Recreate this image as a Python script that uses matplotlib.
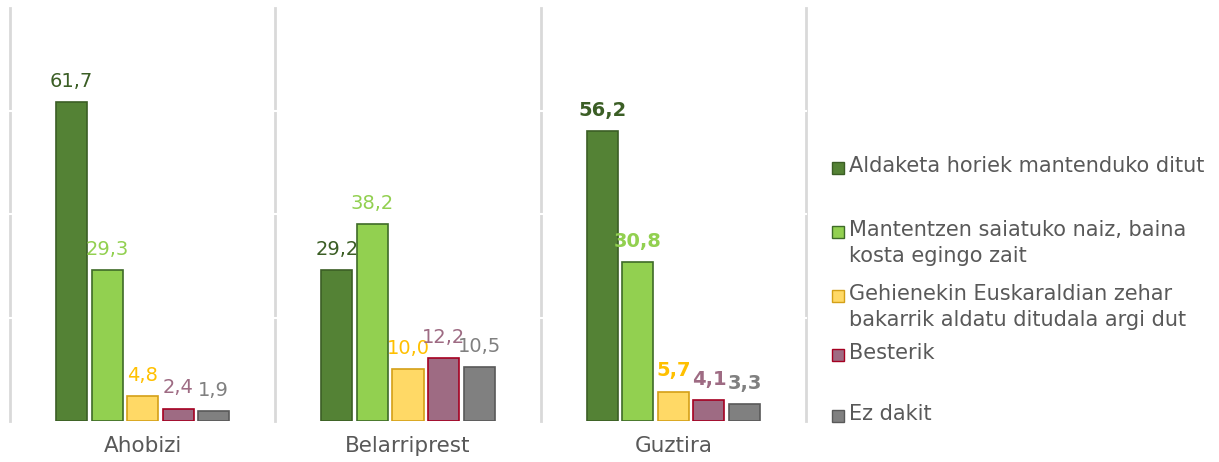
import matplotlib
matplotlib.use("Agg")
import matplotlib.pyplot as plt
from matplotlib.patches import Rectangle
import numpy as np

categories = ["Ahobizi", "Belarriprest", "Guztira"]
series_names = [
    "Aldaketa horiek mantenduko ditut",
    "Mantentzen saiatuko naiz, baina\nkosta egingo zait",
    "Gehienekin Euskaraldian zehar\nbakarrik aldatu ditudala argi dut",
    "Besterik",
    "Ez dakit",
]
values = [
    [61.7, 29.2, 56.2],
    [29.3, 38.2, 30.8],
    [4.8, 10.0, 5.7],
    [2.4, 12.2, 4.1],
    [1.9, 10.5, 3.3],
]
bold_category = "Guztira"

face_colors = ["#548235", "#92D050", "#FFD966", "#9E6B83", "#808080"]
edge_colors = ["#3B5E25", "#3E6B28", "#D4A017", "#A50021", "#595959"]
label_colors = ["#3B5E25", "#92D050", "#FFC000", "#9E6B83", "#808080"]
text_color = "#595959"

plt.rcParams["font.family"] = ["DejaVu Sans"]

W, H = 1219, 462
fig = plt.figure(figsize=(W / 100, H / 100), dpi=100)
ax = fig.add_axes([10 / W, 1 - 421 / H, (806 - 10) / W, (421 - 8) / H])

x = np.arange(len(categories))
step = 0.134
width = 0.117
n = len(series_names)

for v in [-0.5, 0.5, 1.5, 2.5]:
    ax.axvline(v, color="#D9D9D9", lw=2, zorder=0, clip_on=False)
for h in [20, 40, 60]:
    ax.axhline(h, color="white", lw=1.5, zorder=0.5, clip_on=False)

for i in range(n):
    xs = x + (i - (n - 1) / 2) * step
    ax.bar(xs, values[i], width=width, color=face_colors[i],
           edgecolor=edge_colors[i], linewidth=1.2, zorder=2)
    for xi, cat, val in zip(xs, categories, values[i]):
        ax.annotate(f"{val:.1f}".replace(".", ","), (xi, val),
                    xytext=(0, 8), textcoords="offset points",
                    ha="center", va="bottom", fontsize=14,
                    color=label_colors[i],
                    fontweight="bold" if cat == bold_category else "normal")

ax.set_xlim(-0.5, 2.5)
ax.set_ylim(0, 80)
ax.set_xticks(x)
ax.set_xticklabels(categories, fontsize=15.5, color=text_color)
ax.tick_params(axis="x", length=0, pad=11)
ax.set_yticks([])
for s in ax.spines.values():
    s.set_visible(False)

# legend (manual)
leg_y = [168, 232, 296, 355, 416]
for i, (name, yy) in enumerate(zip(series_names, leg_y)):
    fig.patches.append(Rectangle((832 / W, 1 - (yy + 6) / H), 12 / W, 12 / H,
                                 transform=fig.transFigure, facecolor=face_colors[i],
                                 edgecolor=edge_colors[i], linewidth=1))
    fig.text(849 / W, 1 - (yy - 12) / H, name, fontsize=15, color=text_color,
             ha="left", va="top", linespacing=1.35)

fig.savefig("out.png", dpi=100)
